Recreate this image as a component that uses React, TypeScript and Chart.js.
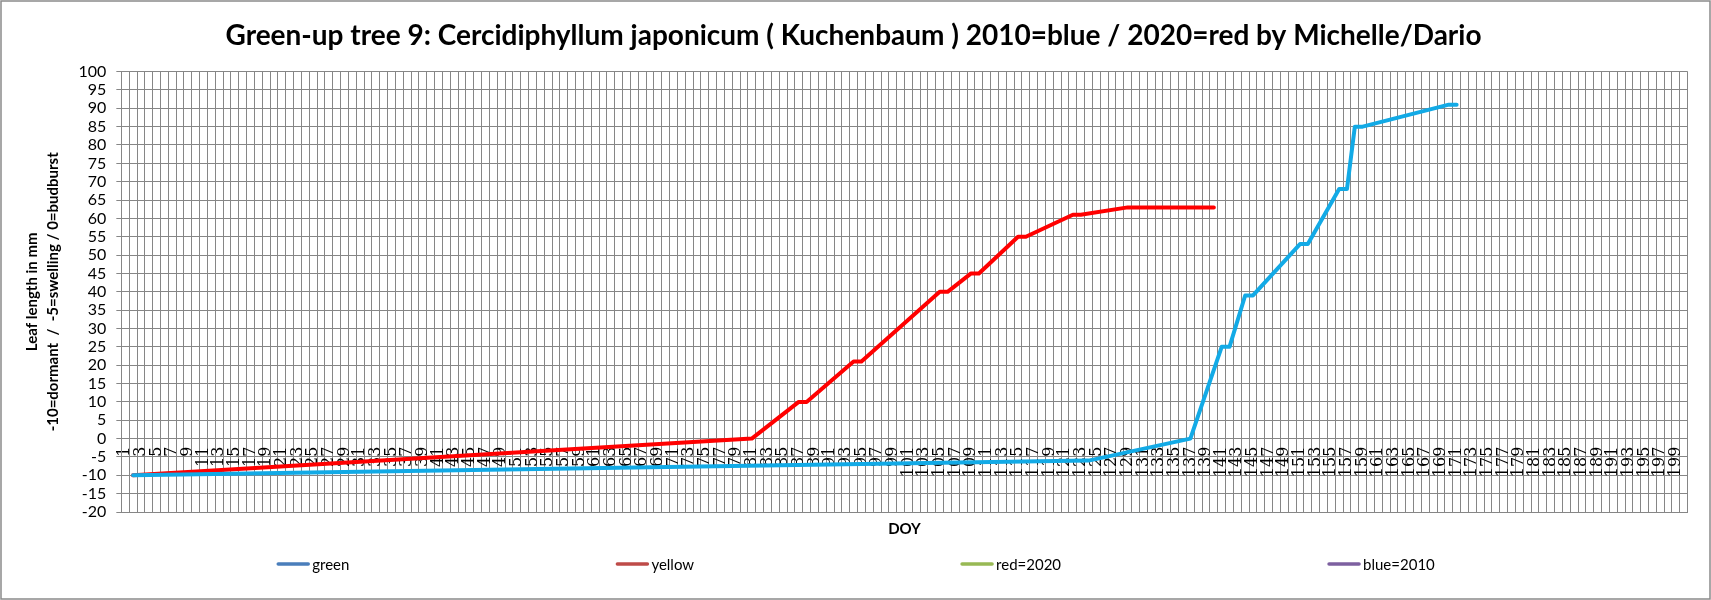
import React, { useEffect, useRef } from "react";
import { Chart, registerables } from "chart.js";

Chart.register(...registerables);

const TITLE =
  "Green-up tree 9: Cercidiphyllum japonicum ( Kuchenbaum ) 2010=blue / 2020=red by Michelle/Dario";
const Y_TITLE = ["Leaf length in mm", "-10=dormant  /  -5=swelling / 0=budburst"];
const X_TITLE = "DOY";

// Categories: day of year 1..200
const DAY_COUNT = 200;
const dayLabels: string[] = [];
for (let d = 1; d <= DAY_COUNT; d++) dayLabels.push(String(d));

// 2020 (red line) measurements: day -> leaf length
const red2020Days = [2, 81, 87, 88, 94, 95, 105, 106, 109, 110, 115, 116, 122, 123, 129, 140];
const red2020Values = [-10, 0, 10, 10, 21, 21, 40, 40, 45, 45, 55, 55, 61, 61, 63, 63];

// 2010 (blue line) measurements
const blue2010Days = [2, 124, 137, 141, 142, 144, 145, 151, 152, 156, 157, 158, 159, 170, 171];
const blue2010Values = [-10, -6, 0, 25, 25, 39, 39, 53, 53, 68, 68, 85, 85, 91, 91];

// Legend entries as shown in the original
const legendNames = ["green", "yellow", "red=2020", "blue=2010"];
const legendColors = ["#4A7EBB", "#BE4B48", "#98B954", "#7D60A0"];

const Y_MIN = -20;
const Y_MAX = 100;
const Y_STEP = 5;

function toSeries(days: number[], values: number[]): (number | null)[] {
  const out: (number | null)[] = dayLabels.map(() => null);
  days.forEach((d, i) => {
    out[d - 1] = values[i];
  });
  return out;
}

const GRID = "#868686";

const excelLegend = {
  id: "excelLegend",
  afterDraw(chart: any) {
    const ctx = chart.ctx as CanvasRenderingContext2D;
    ctx.save();
    ctx.font = "15px Lato";
    ctx.textBaseline = "middle";
    const swatch = 34;
    const textGap = 2;
    const gap = 266;
    const widths = legendNames.map((n) => swatch + textGap + ctx.measureText(n).width);
    const total = widths.reduce((a, b) => a + b, 0) + gap * (widths.length - 1);
    let x = (chart.width - total) / 2;
    const y = chart.height - 36;
    legendNames.forEach((n, i) => {
      ctx.strokeStyle = legendColors[i];
      ctx.lineWidth = 3.5;
      ctx.lineCap = "round";
      ctx.beginPath();
      ctx.moveTo(x + 2, y);
      ctx.lineTo(x + swatch - 2, y);
      ctx.stroke();
      ctx.fillStyle = "#000";
      ctx.fillText(n, x + swatch + textGap, y + 1);
      x += widths[i] + gap;
    });
    ctx.restore();
  },
};

const frame = {
  id: "frame",
  afterDraw(chart: any) {
    const ctx = chart.ctx as CanvasRenderingContext2D;
    ctx.save();
    ctx.strokeStyle = "#8a8a8a";
    ctx.lineWidth = 1.5;
    ctx.strokeRect(1, 1, chart.width - 2, chart.height - 2);
    ctx.restore();
  },
};

export default function App() {
  const canvasRef = useRef<HTMLCanvasElement | null>(null);

  useEffect(() => {
    document.body.style.margin = "0";
    const canvas = canvasRef.current;
    if (!canvas) return;
    const chart = new Chart(canvas, {
      type: "line",
      data: {
        labels: dayLabels,
        datasets: [
          {
            label: "blue=2010",
            data: toSeries(blue2010Days, blue2010Values),
            borderColor: "#12AAE6",
            backgroundColor: "#12AAE6",
            borderWidth: 4,
            pointRadius: 0,
            tension: 0,
            spanGaps: true,
            borderCapStyle: "round",
            borderJoinStyle: "round",
            order: 0,
          },
          {
            label: "red=2020",
            data: toSeries(red2020Days, red2020Values),
            borderColor: "#FF0000",
            backgroundColor: "#FF0000",
            borderWidth: 4,
            pointRadius: 0,
            tension: 0,
            spanGaps: true,
            borderCapStyle: "round",
            borderJoinStyle: "round",
            order: 1,
          },
        ],
      },
      options: {
        responsive: false,
        animation: false,
        layout: { padding: { left: 18, right: 22, top: 0, bottom: 62 } },
        plugins: {
          legend: { display: false },
          tooltip: { enabled: false },
          title: {
            display: true,
            text: TITLE,
            color: "#000",
            font: { family: "Lato", size: 28, weight: "bold", lineHeight: 1.2 },
            padding: { top: 19, bottom: 19 },
          },
        },
        scales: {
          x: {
            type: "category",
            offset: true,
            grid: { offset: true, color: GRID, drawTicks: false, lineWidth: 1 },
            border: { color: GRID },
            ticks: { display: false },
            title: {
              display: true,
              text: X_TITLE,
              color: "#000",
              font: { family: "Lato", size: 15, weight: "bold", lineHeight: 1.2 },
              padding: { top: 8, bottom: 0 },
            },
          },
          x2: {
            type: "category",
            axis: "x",
            position: { y: 0 } as any,
            offset: true,
            grid: { display: false, drawTicks: false },
            border: { display: false },
            ticks: {
              autoSkip: false,
              maxRotation: 90,
              minRotation: 90,
              padding: 8,
              color: "#000",
              font: { family: "DejaVu Serif", size: 16 },
              callback: (_v: any, i: number) => (i % 2 === 0 ? dayLabels[i] : ""),
            },
          },
          y: {
            type: "linear",
            min: Y_MIN,
            max: Y_MAX,
            grid: { color: GRID, tickLength: 5, lineWidth: 1 },
            border: { color: GRID },
            ticks: {
              stepSize: Y_STEP,
              autoSkip: false,
              padding: 10,
              color: "#000",
              font: { family: "Lato", size: 16 },
            },
            title: {
              display: true,
              text: Y_TITLE,
              color: "#000",
              font: { family: "Lato", size: 15, weight: "bold", lineHeight: 1.45 },
              padding: { top: 3, bottom: 4 },
            },
          },
        },
      },
      plugins: [excelLegend, frame],
    } as any);
    return () => chart.destroy();
  }, []);

  return (
    <div style={{ width: 1711, height: 600, background: "#fff" }}>
      <canvas ref={canvasRef} width={1711} height={600} />
    </div>
  );
}
